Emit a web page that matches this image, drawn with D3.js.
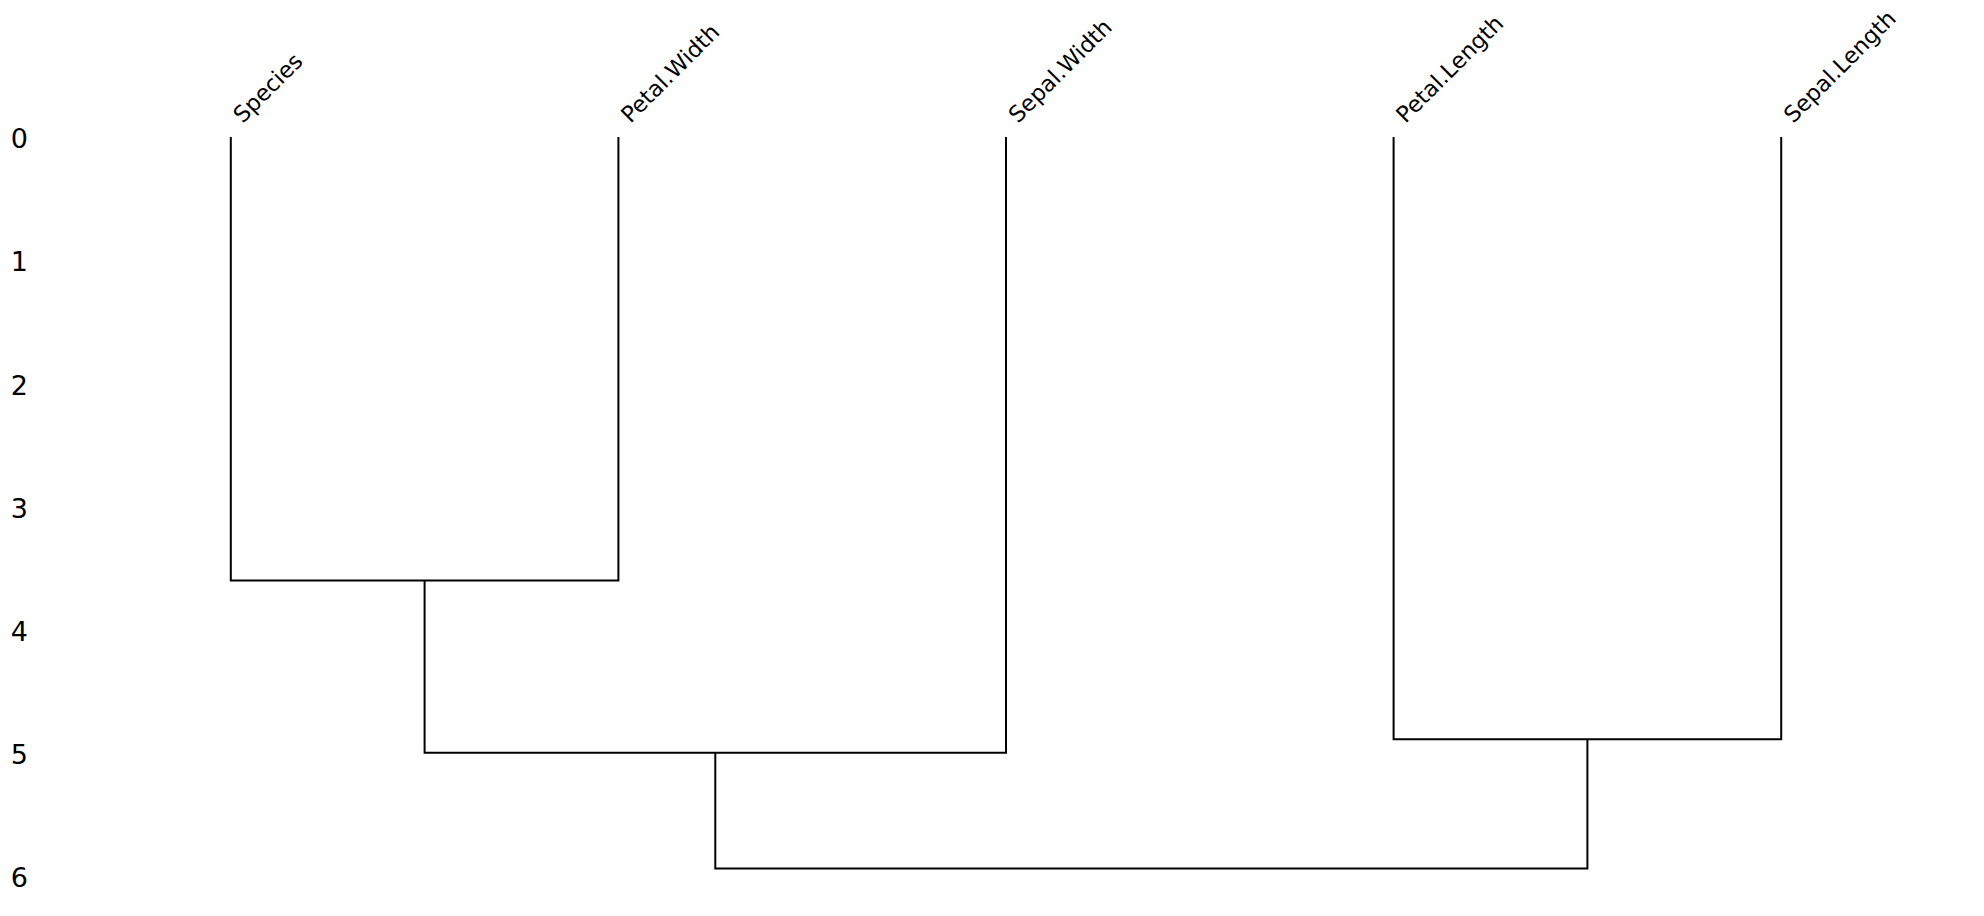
<!DOCTYPE html>
<html>
<head>
<meta charset="utf-8">
<script src="https://cdn.jsdelivr.net/npm/d3@7"></script>
<style>
  body { margin: 0; background: #fff; }
  svg { display: block; font-family: "DejaVu Sans", sans-serif; }
</style>
</head>
<body>
<svg id="dendro" width="1984" height="916"></svg>
<script>
// leaves in display order
const leaves = ["Species", "Petal.Width", "Sepal.Width", "Petal.Length", "Sepal.Length"];

// linkage rows (scipy style: node n+i is created by row i)
const mergeA = [0, 3, 5, 7];
const mergeB = [1, 4, 2, 6];
const mergeHeight = [3.60, 4.89, 5.00, 5.94];

const yTicks = [0, 1, 2, 3, 4, 5, 6];

const svg = d3.select("svg#dendro");

// scipy puts leaves at 5, 15, 25 ... on a 0..10n axis
let xScale = d3.scaleLinear()
  .domain([0, leaves.length * 10])
  .range([37, 1975]);

let yScale = d3.scaleLinear()
  .domain([0, 6])
  .range([137, 876]);

// x and height for every node
let nodeX = leaves.map((d, i) => 5 + 10 * i);
let nodeH = leaves.map(() => 0);
mergeA.forEach((a, i) => {
  nodeX.push((nodeX[a] + nodeX[mergeB[i]]) / 2);
  nodeH.push(mergeHeight[i]);
});

let links = mergeA.map((a, i) => ({ a: a, b: mergeB[i], h: mergeHeight[i] }));

svg.append("g")
  .selectAll("path")
  .data(links)
  .enter()
  .append("path")
  .attr("d", d => {
    let p = d3.path();
    p.moveTo(xScale(nodeX[d.a]), yScale(nodeH[d.a]));
    p.lineTo(xScale(nodeX[d.a]), yScale(d.h));
    p.lineTo(xScale(nodeX[d.b]), yScale(d.h));
    p.lineTo(xScale(nodeX[d.b]), yScale(nodeH[d.b]));
    return p.toString();
  })
  .style("fill", "none")
  .style("stroke", "#000")
  .style("stroke-width", 2);

// y axis: labels only
let yAxis = svg.append("g")
  .attr("transform", "translate(37,0)")
  .call(d3.axisLeft(yScale).tickValues(yTicks).tickFormat(d3.format("d")).tickSize(0).tickPadding(9));
yAxis.select(".domain").remove();
yAxis.selectAll("text")
  .attr("dy", "0.4em")
  .style("font-family", "DejaVu Sans")
  .style("font-size", "27px")
  .style("fill", "#000");

// leaf labels, rotated 45 degrees
svg.append("g")
  .selectAll("text")
  .data(leaves)
  .enter()
  .append("text")
  .attr("transform", (d, i) => `translate(${xScale(nodeX[i]) + 12},124) rotate(-45)`)
  .style("font-size", "22.5px")
  .style("fill", "#000")
  .text(d => d);
</script>
</body>
</html>
